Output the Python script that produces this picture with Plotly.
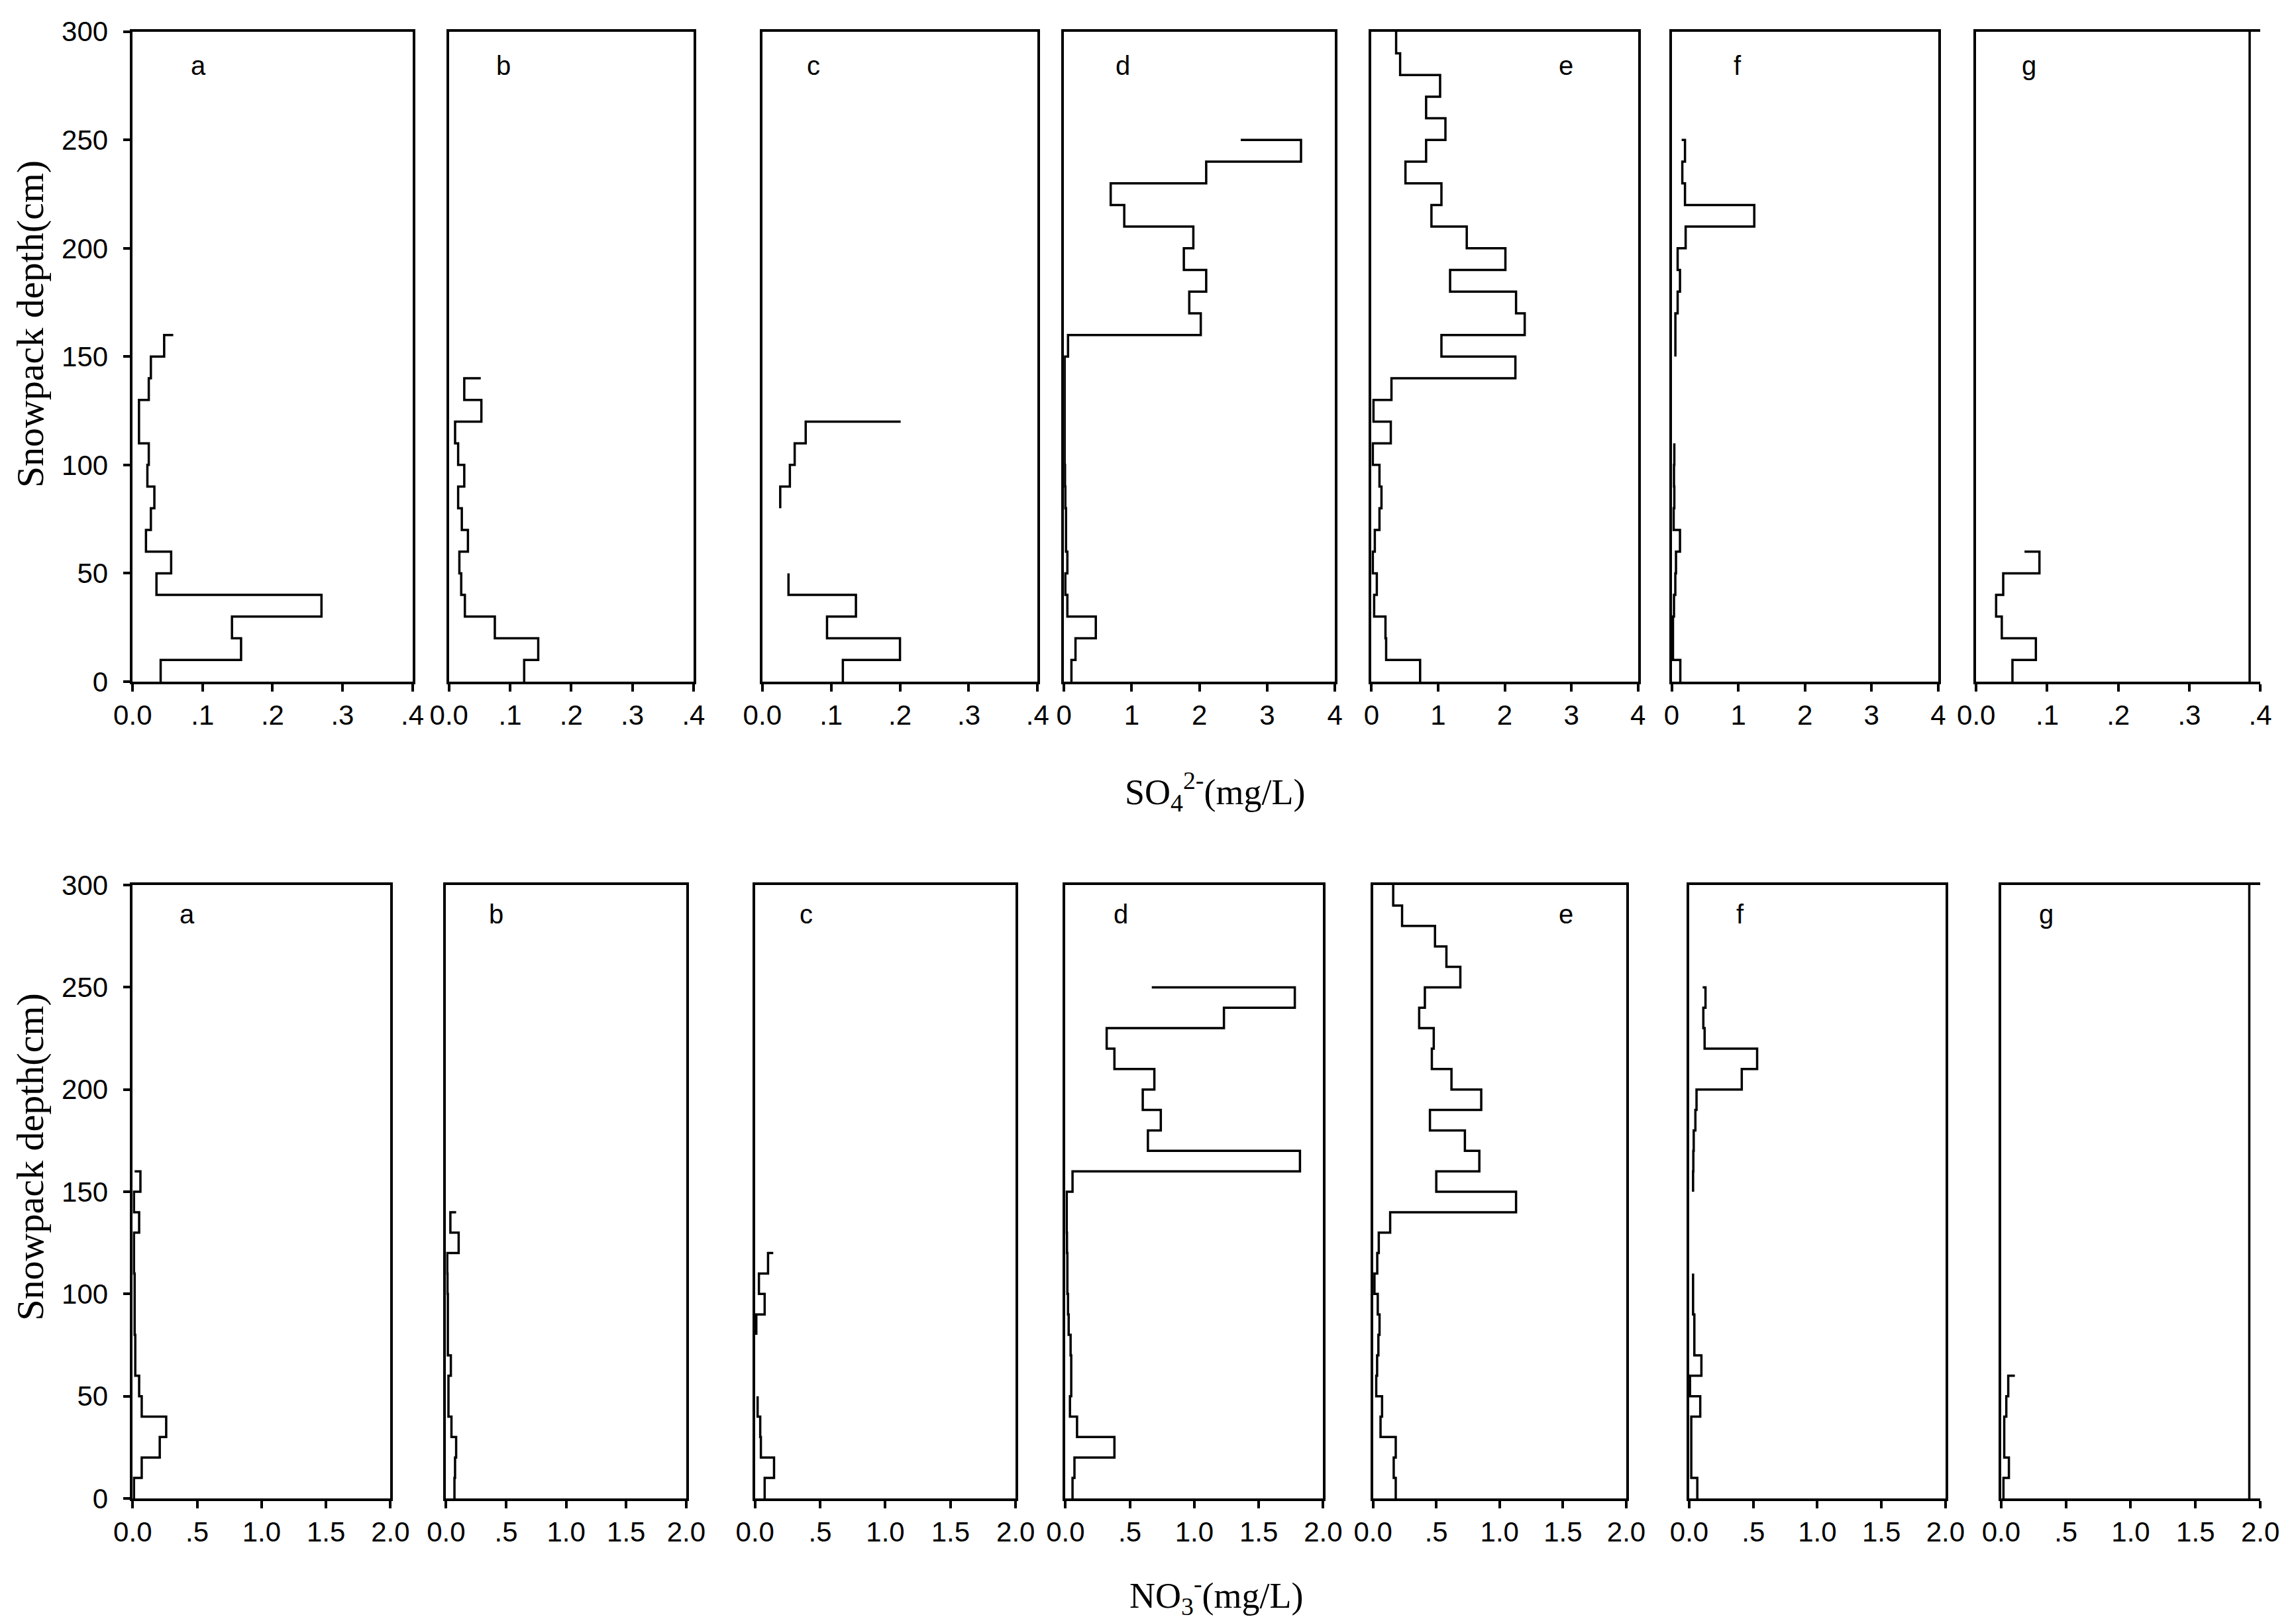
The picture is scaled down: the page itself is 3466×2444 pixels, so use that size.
import plotly.graph_objects as go

# ---- data: snowpack profiles (depth in cm, concentration in mg/L) ----
panel_names = ["a", "b", "c", "d", "e", "f", "g"]

# SO4 2- (top row)
so4_a_depth = [160, 150, 140, 130, 120, 110, 100, 90, 80, 70, 60, 50, 40, 30, 20, 10, 0]
so4_a = [0.058, 0.045, 0.026, 0.023, 0.009, 0.009, 0.023, 0.021, 0.031, 0.026, 0.019, 0.055, 0.034, 0.270, 0.142, 0.155, 0.040]

so4_b_depth = [140, 130, 120, 110, 100, 90, 80, 70, 60, 50, 40, 30, 20, 10, 0]
so4_b = [0.052, 0.025, 0.053, 0.010, 0.015, 0.025, 0.015, 0.021, 0.031, 0.017, 0.020, 0.026, 0.075, 0.146, 0.123]

so4_c_depth = [120, 110, 100, 90, 80, None, 50, 40, 30, 20, 10, 0]
so4_c = [0.201, 0.063, 0.047, 0.040, 0.026, None, 0.038, 0.038, 0.136, 0.094, 0.200, 0.117]

so4_d_depth = [250, 240, 230, 220, 210, 200, 190, 180, 170, 160, 150, 140, 130, 120, 110, 100, 90, 80, 70, 60, 50, 40, 30, 20, 10, 0]
so4_d = [2.61, 3.50, 2.10, 0.69, 0.89, 1.91, 1.77, 2.10, 1.85, 2.02, 0.06, 0.01, 0.01, 0.01, 0.01, 0.01, 0.015, 0.02, 0.03, 0.03, 0.05, 0.02, 0.05, 0.47, 0.17, 0.11]

so4_e_depth = [300, 290, 280, 270, 260, 250, 240, 230, 220, 210, 200, 190, 180, 170, 160, 150, 140, 130, 120, 110, 100, 90, 80, 70, 60, 50, 40, 30, 20, 10, 0]
so4_e = [0.37, 0.37, 0.43, 1.03, 0.82, 1.11, 0.82, 0.51, 1.05, 0.90, 1.43, 2.01, 1.18, 2.17, 2.30, 1.05, 2.16, 0.30, 0.03, 0.29, 0.02, 0.12, 0.15, 0.12, 0.05, 0.02, 0.08, 0.04, 0.21, 0.22, 0.73]

so4_f_depth = [250, 240, 230, 220, 210, 200, 190, 180, 170, 160, 150, None, 110, 100, 90, 80, 70, 60, 50, 40, 30, 20, 10, 0]
so4_f = [0.15, 0.20, 0.16, 0.20, 1.24, 0.21, 0.09, 0.125, 0.09, 0.056, 0.056, None, 0.04, 0.04, 0.035, 0.04, 0.03, 0.125, 0.065, 0.055, 0.035, 0.02, 0.02, 0.13]

so4_g_depth = [60, 50, 40, 30, 20, 10, 0]
so4_g = [0.068, 0.089, 0.038, 0.028, 0.036, 0.084, 0.051]

# NO3- (bottom row)
no3_a_depth = [160, 150, 140, 130, 120, 110, 100, 90, 80, 70, 60, 50, 40, 30, 20, 10, 0]
no3_a = [0.015, 0.06, 0.01, 0.05, 0.01, 0.01, 0.015, 0.015, 0.015, 0.02, 0.02, 0.05, 0.07, 0.26, 0.21, 0.07, 0.01]

no3_b_depth = [140, 130, 120, 110, 100, 90, 80, 70, 60, 50, 40, 30, 20, 10, 0]
no3_b = [0.084, 0.036, 0.105, 0.01, 0.012, 0.015, 0.015, 0.015, 0.04, 0.02, 0.02, 0.045, 0.084, 0.075, 0.07]

no3_c_depth = [120, 110, 100, 90, 80, None, 50, 40, 30, 20, 10, 0]
no3_c = [0.14, 0.10, 0.03, 0.074, 0.01, None, 0.02, 0.02, 0.04, 0.045, 0.146, 0.074]

no3_d_depth = [250, 240, 230, 220, 210, 200, 190, 180, 170, 160, 150, 140, 130, 120, 110, 100, 90, 80, 70, 60, 50, 40, 30, 20, 10, 0]
no3_d = [0.67, 1.78, 1.23, 0.32, 0.38, 0.69, 0.60, 0.74, 0.64, 1.82, 0.055, 0.01, 0.01, 0.012, 0.015, 0.015, 0.02, 0.025, 0.04, 0.045, 0.045, 0.035, 0.09, 0.38, 0.07, 0.055]

no3_e_depth = [300, 290, 280, 270, 260, 250, 240, 230, 220, 210, 200, 190, 180, 170, 160, 150, 140, 130, 120, 110, 100, 90, 80, 70, 60, 50, 40, 30, 20, 10, 0]
no3_e = [0.16, 0.16, 0.23, 0.49, 0.58, 0.69, 0.41, 0.365, 0.48, 0.465, 0.62, 0.855, 0.45, 0.726, 0.84, 0.50, 1.13, 0.136, 0.046, 0.034, 0.012, 0.038, 0.052, 0.043, 0.033, 0.026, 0.072, 0.06, 0.18, 0.164, 0.18]

no3_f_depth = [250, 240, 230, 220, 210, 200, 190, 180, 170, 160, 150, None, 110, 100, 90, 80, 70, 60, 50, 40, 30, 20, 10, 0]
no3_f = [0.105, 0.127, 0.11, 0.12, 0.53, 0.41, 0.057, 0.048, 0.035, 0.032, 0.03, None, 0.03, 0.03, 0.03, 0.04, 0.04, 0.095, 0.006, 0.086, 0.016, 0.016, 0.016, 0.063]

no3_g_depth = [60, 50, 40, 30, 20, 10, 0]
no3_g = [0.106, 0.055, 0.04, 0.024, 0.024, 0.06, 0.018]

depth_ticks = [0, 50, 100, 150, 200, 250, 300]
so4_small_ticks = [0, 0.1, 0.2, 0.3, 0.4]
so4_small_labels = ["0.0", ".1", ".2", ".3", ".4"]
so4_big_ticks = [0, 1, 2, 3, 4]
so4_big_labels = ["0", "1", "2", "3", "4"]
no3_ticks = [0, 0.5, 1.0, 1.5, 2.0]
no3_labels = ["0.0", ".5", "1.0", "1.5", "2.0"]

top_series = [(so4_a, so4_a_depth), (so4_b, so4_b_depth), (so4_c, so4_c_depth), (so4_d, so4_d_depth),
              (so4_e, so4_e_depth), (so4_f, so4_f_depth), (so4_g, so4_g_depth)]
bot_series = [(no3_a, no3_a_depth), (no3_b, no3_b_depth), (no3_c, no3_c_depth), (no3_d, no3_d_depth),
              (no3_e, no3_e_depth), (no3_f, no3_f_depth), (no3_g, no3_g_depth)]

# ---- layout (positions measured on a 1568x1106 view) ----
SW, SH = 1568.0, 1106.0
top_cols = [(87, 278), (303, 470), (517, 705), (723, 908), (933, 1115), (1138, 1320), (1346, 1540)]
bot_cols = [(87, 263), (301, 465), (512, 690), (724, 900), (934, 1107), (1150, 1325), (1363, 1540)]
top_rows = (18, 462)
bot_rows = (601, 1020)
top_letter_pos = [(132, 41), (340, 41), (552, 41), (763, 41), (1066, 41), (1183, 41), (1382, 41)]
bot_letter_pos = [(124, 621), (335, 621), (547, 621), (762, 621), (1066, 621), (1185, 621), (1394, 621)]

TICK_FONT = dict(family="Liberation Sans, Arial", size=42, color="black")
LW = 3.5

fig = go.Figure()
layout = {}
annotations = []
shapes = []

def add_panel(n, xs, ys, col, rows, xrange_, tickvals, ticktext, first, right_edge=None):
    xa = "x" if n == 1 else f"x{n}"
    ya = "y" if n == 1 else f"y{n}"
    fig.add_trace(go.Scatter(
        x=xs, y=ys, mode="lines", xaxis=xa, yaxis=ya,
        line=dict(shape="hv", color="black", width=LW),
        connectgaps=False, showlegend=False, hoverinfo="skip"
    ))
    key = "" if n == 1 else str(n)
    layout["xaxis" + key] = dict(
        domain=[col[0] / SW, col[1] / SW], anchor=ya, range=xrange_,
        showline=True, linecolor="black", linewidth=LW, mirror=True,
        ticks="outside", ticklen=11, tickwidth=LW, tickcolor="black",
        tickvals=tickvals, ticktext=ticktext, tickfont=TICK_FONT,
        showgrid=False, zeroline=False, fixedrange=True, automargin=False
    )
    layout["yaxis" + key] = dict(
        domain=[1 - rows[1] / SH, 1 - rows[0] / SH], anchor=xa, range=[0, 300],
        showline=True, linecolor="black", linewidth=LW,
        mirror=(right_edge is None),
        ticks="outside" if first else "", ticklen=11, tickwidth=LW, tickcolor="black",
        tickvals=depth_ticks, showticklabels=first, tickfont=TICK_FONT,
        ticklabelstandoff=14,
        showgrid=False, zeroline=False, fixedrange=True, automargin=False
    )
    if right_edge is not None:
        shapes.append(dict(type="line", xref=xa, yref=ya, x0=right_edge, x1=right_edge,
                           y0=0, y1=300, line=dict(color="black", width=LW)))

for i in range(7):
    vals, dep = top_series[i]
    if i in (3, 4, 5):
        rng, tv, tt = [0, 4], so4_big_ticks, so4_big_labels
    else:
        rng, tv, tt = [0, 0.4], so4_small_ticks, so4_small_labels
    add_panel(i + 1, vals, dep, top_cols[i], top_rows, rng, tv, tt, i == 0,
              right_edge=0.385 if i == 6 else None)

for i in range(7):
    vals, dep = bot_series[i]
    add_panel(i + 8, vals, dep, bot_cols[i], bot_rows, [0, 2], no3_ticks, no3_labels, i == 0,
              right_edge=1.915 if i == 6 else None)

for (px, py), name in zip(top_letter_pos + bot_letter_pos, panel_names + panel_names):
    annotations.append(dict(x=px / SW, y=1 - py / SH, xref="paper", yref="paper",
                            text=name, showarrow=False, xanchor="center", yanchor="middle",
                            font=dict(family="Liberation Sans, Arial", size=40, color="black")))

SERIF = dict(family="Liberation Serif, Times New Roman", size=58, color="black")
XTITLE = dict(family="Liberation Serif, Times New Roman", size=54, color="black")
annotations += [
    dict(x=17 / SW, y=1 - 218 / SH, xref="paper", yref="paper", text="Snowpack depth(cm)",
         textangle=-90, showarrow=False, font=SERIF, xanchor="center", yanchor="middle"),
    dict(x=17 / SW, y=1 - 787 / SH, xref="paper", yref="paper", text="Snowpack depth(cm)",
         textangle=-90, showarrow=False, font=SERIF, xanchor="center", yanchor="middle"),
    dict(x=826 / SW, y=1 - 537 / SH, xref="paper", yref="paper",
         text="SO<sub>4</sub><sup>2-</sup>(mg/L)", showarrow=False, font=XTITLE,
         xanchor="center", yanchor="middle"),
    dict(x=827 / SW, y=1 - 1086 / SH, xref="paper", yref="paper",
         text="NO<sub>3</sub><sup>-</sup>(mg/L)", showarrow=False, font=XTITLE,
         xanchor="center", yanchor="middle"),
]

fig.update_layout(
    template="none",
    width=3466, height=2444,
    margin=dict(l=0, r=0, t=0, b=0),
    plot_bgcolor="white", paper_bgcolor="white",
    annotations=annotations, shapes=shapes,
    **layout
)

fig.write_html("out.html")
